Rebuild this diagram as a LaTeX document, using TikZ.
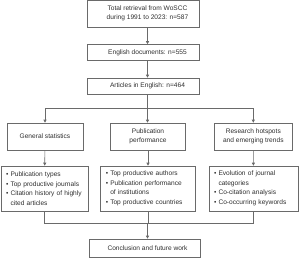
\documentclass[tikz,border=0pt]{standalone}
\usepackage{fontspec}
\setmainfont{Liberation Sans}
\usetikzlibrary{arrows.meta}
\definecolor{edgegray}{HTML}{6A6A6A}
\definecolor{textgray}{HTML}{2E2E2E}
\tikzset{
  box/.style={draw=edgegray, line width=0.6bp, inner sep=0pt, text=textgray,
    font=\fontsize{6.6bp}{9bp}\selectfont, align=center},
  listbox/.style={box, align=left, font=\fontsize{6.6bp}{9.5bp}\selectfont,
    text width=#1, inner xsep=5bp},
  link/.style={draw=edgegray, line width=0.6bp},
  arr/.style={link, -{Triangle[width=3bp,length=3bp]}}
}
\newcommand{\bul}{\textbullet\ }
\newcommand{\bulgap}{\phantom{\textbullet\ }}
\begin{document}
\begin{tikzpicture}[x=1bp, y=-1bp]
  \useasboundingbox (0,0) rectangle (300,258);
  \coordinate (mid) at (147.5,0);
  \coordinate (branch) at (147.5,108);
  \coordinate (merge) at (147.5,223);
  % main column
  \node[box, minimum width=112bp, minimum height=27bp,
    label={[box, draw=none, xshift=4.5bp]center:{Total retrieval from WoSCC\\during 1991 to 2023: n=587}}]
    (total) at (143,13.75) {};
  \node[box, minimum width=112bp, minimum height=16bp,
    label={[box, draw=none, xshift=4.5bp]center:{English documents: n=555}}]
    (english) at (143,52.5) {};
  \node[box, minimum width=112bp, minimum height=16bp,
    label={[box, draw=none, xshift=4.5bp]center:{Articles in English: n=464}}]
    (articles) at (143,86) {};
  % topics
  \node[box, minimum width=76bp, minimum height=27bp] (general) at (45,136.5) {General statistics};
  \node[box, minimum width=74.5bp, minimum height=27bp] (perform) at (148,136.5) {Publication\\performance};
  \node[box, minimum width=77bp, minimum height=27bp] (hotspot) at (253.3,136.5) {Research hotspots\\and emerging trends};
  % contents
  \node[listbox=77bp, minimum height=45bp] (genlist) at (44.5,188.5)
    {\bul Publication types\\\bul Top productive journals\\\bul Citation history of highly\\\bulgap cited articles};
  \node[listbox=84.5bp, minimum height=45bp] (perflist) at (148,188.5)
    {\bul Top productive authors\\\bul Publication performance\\\bulgap of institutions\\\bul Top productive countries};
  \node[listbox=79bp, minimum height=45bp] (hotlist) at (253.5,188.5)
    {\bul Evolution of journal\\\bulgap categories\\\bul Co-citation analysis\\\bul Co-occurring keywords};
  \node[box, minimum width=111bp, minimum height=18bp,
    label={[box, draw=none, xshift=3bp]center:{Conclusion and future work}}]
    (conclusion) at (144.5,248) {};
  % connectors
  \draw[arr] (total.south -| mid) -- (english.north -| mid);
  \draw[arr] (english.south -| mid) -- (articles.north -| mid);
  \draw[link] (articles.south -| mid) -- (branch);
  \draw[link] (general.north |- branch) -- (hotspot.north |- branch);
  \draw[arr] (general.north |- branch) -- (general.north);
  \draw[arr] (branch) -- (perform.north -| branch);
  \draw[arr] (hotspot.north |- branch) -- (hotspot.north);
  \draw[arr] (general) -- (genlist);
  \draw[arr] (perform) -- (perflist);
  \draw[arr] (hotspot) -- (hotlist);
  \draw[link] (genlist.south) -- (genlist.south |- merge) -- (hotlist.south |- merge) -- (hotlist.south);
  \draw[link] (perflist.south) -- (perflist.south |- merge);
  \draw[arr] (merge) -- (conclusion.north -| merge);
\end{tikzpicture}
\end{document}
